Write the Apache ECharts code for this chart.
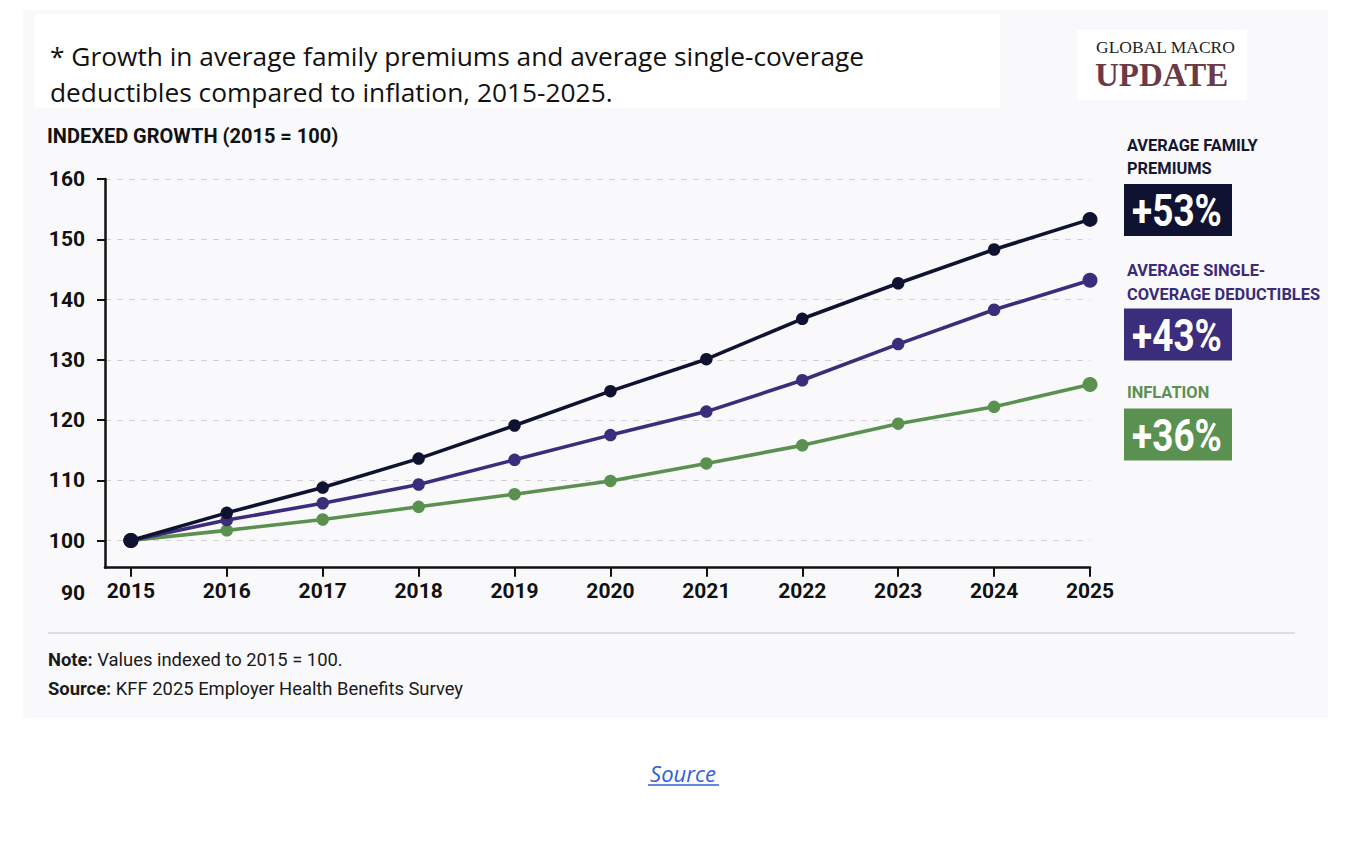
<!DOCTYPE html>
<html>
<head>
<meta charset="utf-8">
<style>
  html, body { margin: 0; padding: 0; background: #ffffff; }
  #chart { width: 1354px; height: 846px; }
</style>
<script src="https://cdn.jsdelivr.net/npm/echarts@6/dist/echarts.min.js"></script>
</head>
<body>
<div id="chart"></div>
<script>
// ---- data ----
const years = [2015, 2016, 2017, 2018, 2019, 2020, 2021, 2022, 2023, 2024, 2025];
const familyPremiums = [100, 104.6, 108.8, 113.6, 119.1, 124.8, 130.1, 136.8, 142.7, 148.3, 153.3];
const singleDeductibles = [100, 103.4, 106.2, 109.3, 113.4, 117.5, 121.4, 126.6, 132.6, 138.3, 143.2];
const inflation = [100, 101.7, 103.5, 105.6, 107.7, 109.9, 112.8, 115.8, 119.4, 122.2, 125.9];
const yTickValues = [100, 110, 120, 130, 140, 150, 160];
const yBottomLabel = 90;
const seriesNames = ['Average family premiums', 'Average single-coverage deductibles', 'Inflation'];
const legendLines = [['AVERAGE FAMILY', 'PREMIUMS'], ['AVERAGE SINGLE-', 'COVERAGE DEDUCTIBLES'], ['INFLATION']];
const growthLabels = ['+53%', '+43%', '+36%'];
const titleLines = ['* Growth in average family premiums and average single-coverage',
                    'deductibles compared to inflation, 2015-2025.'];
const axisTitle = 'INDEXED GROWTH (2015 = 100)';
const noteText = ['Note:', ' Values indexed to 2015 = 100.'];
const sourceText = ['Source:', ' KFF 2025 Employer Health Benefits Survey'];
const logoLines = ['GLOBAL MACRO', 'UPDATE'];

// ---- styles ----
const C_NAVY = '#0f1230';
const C_PURPLE = '#3b2c7c';
const C_GREEN = '#5b9150';
const SANS = 'Roboto, "Noto Sans", sans-serif';
const SERIF = '"Liberation Serif", "DejaVu Serif", serif';

const chart = echarts.init(document.getElementById('chart'), null, { renderer: 'svg' });

function pairs(vals) { return years.map((y, i) => [y, vals[i]]); }
const lastIdx = years.length - 1;
function mkSeries(name, vals, color, z) {
  return {
    name: name, type: 'line', data: pairs(vals), z: z,
    symbol: 'circle',
    symbolSize: (v, p) => (p.dataIndex === lastIdx || p.dataIndex === 0) ? 15 : 12.5,
    lineStyle: { color: color, width: 3.6 },
    itemStyle: { color: color },
    emphasis: { disabled: true },
    animation: false
  };
}

const boxColors = [C_NAVY, C_PURPLE, C_GREEN];
const labelColors = ['#141733', '#3a2b7a', C_GREEN];
const legendLabelY = [[145, 168.5], [270.5, 294], [392.5]];
const boxY = [184, 308.5, 408.5];

const graphics = [
  { type: 'rect', silent: true, z: -10, shape: { x: 23, y: 10, width: 1305, height: 708 }, style: { fill: '#f9f9fb' } },
  { type: 'rect', silent: true, z: -9, shape: { x: 35, y: 14, width: 965, height: 94 }, style: { fill: '#ffffff' } },
  { type: 'rect', silent: true, z: -9, shape: { x: 1077, y: 30, width: 170, height: 70 }, style: { fill: '#ffffff' } },
  { type: 'text', silent: true, style: { text: logoLines[0], x: 1096, y: 47, verticalAlign: 'middle', font: '17.5px ' + SERIF, fill: '#222222' } },
  { type: 'text', silent: true, style: { text: logoLines[1], x: 1095, y: 75, verticalAlign: 'middle', font: 'bold 33px ' + SERIF, fill: '#6b3a46' } },
  { type: 'text', silent: true, style: { text: titleLines[0], x: 50, y: 56, verticalAlign: 'middle', font: '26.3px "Open Sans", sans-serif', fill: '#111111' } },
  { type: 'text', silent: true, style: { text: titleLines[1], x: 50, y: 92, verticalAlign: 'middle', font: '26.3px "Open Sans", sans-serif', fill: '#111111' } },
  { type: 'text', silent: true, style: { text: axisTitle, x: 47, y: 136, verticalAlign: 'middle', font: 'bold 20px ' + SANS, fill: '#111111' } },
  { type: 'line', silent: true, shape: { x1: 48, y1: 633, x2: 1295, y2: 633 }, style: { stroke: '#dedee2', lineWidth: 2 } },
  { type: 'text', silent: true, style: { text: '{b|' + noteText[0] + '}' + noteText[1], x: 48, y: 659.5, verticalAlign: 'middle', font: '18.4px ' + SANS, fill: '#1a1a1a', rich: { b: { fontWeight: 'bold', fontSize: 18.4, fontFamily: SANS, fill: '#1a1a1a' } } } },
  { type: 'text', silent: true, style: { text: '{b|' + sourceText[0] + '}' + sourceText[1], x: 48, y: 688.5, verticalAlign: 'middle', font: '18.4px ' + SANS, fill: '#1a1a1a', rich: { b: { fontWeight: 'bold', fontSize: 18.4, fontFamily: SANS, fill: '#1a1a1a' } } } },
  { type: 'text', silent: true, style: { text: 'Source', x: 683, y: 773, align: 'center', verticalAlign: 'middle', font: 'italic 22px "Open Sans", sans-serif', fill: '#3060d8' } },
  { type: 'line', silent: true, shape: { x1: 648, y1: 785, x2: 719, y2: 785 }, style: { stroke: '#3060d8', lineWidth: 1.3 } }
];

legendLines.forEach((lines, k) => {
  lines.forEach((t, j) => {
    graphics.push({ type: 'text', silent: true, style: { text: t, x: 1127, y: legendLabelY[k][j], verticalAlign: 'middle', font: 'bold 16.4px ' + SANS, fill: labelColors[k] } });
  });
  graphics.push({ type: 'rect', silent: true, shape: { x: 1124, y: boxY[k], width: 108, height: 52 }, style: { fill: boxColors[k] } });
  graphics.push({ type: 'text', silent: true, x: 1177, y: boxY[k] + 27, scaleX: 0.84,
    style: { text: growthLabels[k], x: 0, y: 0, align: 'center', verticalAlign: 'middle', font: 'bold 44px ' + SANS, fill: '#ffffff' } });
});

const option = {
  backgroundColor: '#ffffff',
  animation: false,
  grid: { left: 105, right: 264, top: 179, bottom: 278.3, containLabel: false },
  xAxis: {
    type: 'value', min: 2014.73, max: 2025,
    axisLine: { show: true, lineStyle: { color: '#111111', width: 2.5 } },
    axisTick: { show: true, customValues: years, length: 9, lineStyle: { color: '#111111', width: 2 } },
    axisLabel: { customValues: years, formatter: v => String(v), fontSize: 21, fontWeight: 'bold', fontFamily: SANS, color: '#111111', margin: 13 },
    splitLine: { show: false }
  },
  yAxis: {
    type: 'value', min: 95.5, max: 160,
    axisLine: { show: true, lineStyle: { color: '#111111', width: 2.5 } },
    axisTick: { show: true, customValues: yTickValues, length: 8, lineStyle: { color: '#111111', width: 2 } },
    axisLabel: { customValues: yTickValues, fontSize: 21, fontWeight: 'bold', fontFamily: SANS, color: '#111111', margin: 20 },
    splitLine: { show: true, lineStyle: { color: '#d2d2d6', width: 1.2, type: [6, 6] } }
  },
  series: [
    mkSeries(seriesNames[2], inflation, C_GREEN, 2),
    mkSeries(seriesNames[1], singleDeductibles, C_PURPLE, 3),
    mkSeries(seriesNames[0], familyPremiums, C_NAVY, 4)
  ],
  graphic: graphics
};
chart.setOption(option);

// bottom "90" label, positioned through the y axis scale
const y90 = chart.convertToPixel({ yAxisIndex: 0 }, yBottomLabel);
graphics.push({ type: 'text', silent: true, style: { text: String(yBottomLabel), x: 85, y: y90 - 8, align: 'right', verticalAlign: 'middle', font: 'bold 21px ' + SANS, fill: '#111111' } });
chart.setOption({ graphic: graphics }, { replaceMerge: ['graphic'] });
</script>
</body>
</html>
